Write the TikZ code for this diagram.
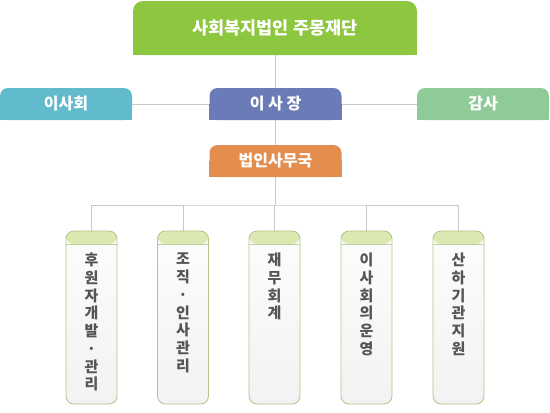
\documentclass[tikz,border=0pt]{standalone}
\usepackage{fontspec}
\newfontfamily\kr{Noto Sans CJK KR}
\usetikzlibrary{backgrounds}
\definecolor{cTop}{HTML}{8DC63F}
\definecolor{cBod}{HTML}{62BBCC}
\definecolor{cCeo}{HTML}{6A7BB8}
\definecolor{cAud}{HTML}{8FCA99}
\definecolor{cOff}{HTML}{E38D4F}
\definecolor{cLine}{HTML}{C8C8C8}
\definecolor{cHdrA}{HTML}{DDE9B3}
\definecolor{cHdrB}{HTML}{C9DB94}
\definecolor{cBorder}{HTML}{AFC487}
\definecolor{cTxt}{HTML}{555555}
\tikzset{
  headbox/.style={rectangle, rounded corners=8pt, fill=#1, text=white, inner sep=0pt,
    minimum width=132pt, minimum height=32pt, font=\kr\bfseries\fontsize{16}{19}\selectfont},
  unitbox/.style={rectangle, rounded corners=8pt, draw=cBorder, line width=0.8pt,
    top color=gray!2, bottom color=gray!10, minimum width=51pt, minimum height=173pt, inner sep=0pt,
    path picture={
      \shade[top color=cHdrA, bottom color=cHdrB] (path picture bounding box.north west) rectangle ([yshift=-13pt]path picture bounding box.north east);
      \draw[cBorder!80, line width=0.6pt] ([yshift=-13pt]path picture bounding box.north west) -- ([yshift=-13pt]path picture bounding box.north east);
    }},
  unitlabel/.style={anchor=north, inner sep=0pt, align=center, text=cTxt,
    font=\kr\bfseries\fontsize{15}{17.7}\selectfont},
  conn/.style={draw=cLine, line width=1pt}
}
\begin{document}
\begin{tikzpicture}[x=1pt, y=-1pt]
\useasboundingbox (0,0) rectangle (550,413);
% top box
\node[headbox=cTop, rounded corners=10pt, minimum width=284pt, minimum height=54pt,
  font=\kr\bfseries\fontsize{17.5}{21}\selectfont] (top) at (275,28) {사회복지법인 주몽재단};
\node[headbox=cBod] (bod) at (66,104) {이사회};
\node[headbox=cCeo] (ceo) at (275.5,104) {이 사 장};
\node[headbox=cAud] (aud) at (483,104) {감사};
\node[headbox=cOff] (off) at (275.5,161) {법인사무국};
\begin{scope}[on background layer]
  \foreach \n/\c in {top/cTop, bod/cBod, ceo/cCeo, aud/cAud, off/cOff}
    \fill[\c] (\n.west) rectangle (\n.south east);
\end{scope}
% unit boxes
\node[unitbox] (b1) at (91.5,317.5) {};
\node[unitbox] (b2) at (183,317.5) {};
\node[unitbox] (b3) at (274.5,317.5) {};
\node[unitbox] (b4) at (366.5,317.5) {};
\node[unitbox] (b5) at (458.5,317.5) {};
\node[unitlabel] (l1) at (91.5,253) {후\\원\\자\\개\\발\\·\\관\\리};
\node[unitlabel] (l2) at (183,253) {조\\직\\·\\인\\사\\관\\리};
\node[unitlabel] (l3) at (274.5,253) {재\\무\\회\\계};
\node[unitlabel] (l4) at (366.5,253) {이\\사\\회\\의\\운\\영};
\node[unitlabel] (l5) at (458.5,253) {산\\하\\기\\관\\지\\원};
% connectors
\begin{scope}[on background layer]
\path[conn] (top.south) -- (top.south |- ceo.north);
\path[conn] (bod.east) -- (ceo.west);
\path[conn] (ceo.east) -- (aud.west);
\path[conn] (ceo.south -| top.south) -- (off.north -| top.south);
\coordinate (bus) at (275,205);
\path[conn] (off.south -| bus) -- (bus);
\path[conn] (b1.north) |- (bus) -| (b5.north);
\path[conn] (b2.north) -- (b2.north |- bus);
\path[conn] (b3.north) -- (b3.north |- bus);
\path[conn] (b4.north) -- (b4.north |- bus);
\end{scope}
\end{tikzpicture}
\end{document}
